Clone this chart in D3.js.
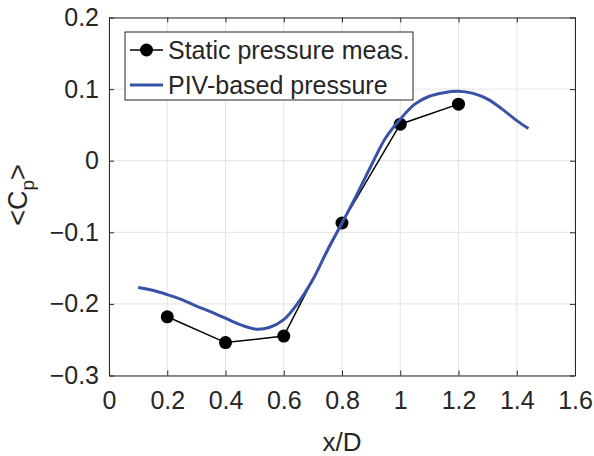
<!DOCTYPE html>
<html>
<head>
<meta charset="utf-8">
<script src="https://cdn.jsdelivr.net/npm/d3@7"></script>
<style>
  body { margin: 0; background: #fff; }
  text { font-family: "Liberation Sans", Arial, Helvetica, sans-serif; fill: #262626; }
</style>
</head>
<body>
<script>
// Static pressure taps
var staticX = [0.2, 0.4, 0.6, 0.8, 1.0, 1.2];
var staticCp = [-0.218, -0.254, -0.245, -0.087, 0.051, 0.079];

// PIV-based pressure profile
var pivX = [0.10, 0.15, 0.20, 0.25, 0.30, 0.35, 0.40, 0.45, 0.50, 0.55, 0.60, 0.65, 0.70,
  0.75, 0.80, 0.85, 0.90, 0.95, 1.00, 1.05, 1.10, 1.15, 1.20, 1.25, 1.30, 1.35, 1.40, 1.44];
var pivCp = [-0.177, -0.181, -0.187, -0.194, -0.203, -0.211, -0.220, -0.229, -0.235, -0.233,
  -0.222, -0.198, -0.166, -0.125, -0.087, -0.048, -0.007, 0.032, 0.058, 0.079, 0.090,
  0.095, 0.097, 0.094, 0.086, 0.072, 0.056, 0.045];

// Tick values
var xTicks = [0, 0.2, 0.4, 0.6, 0.8, 1, 1.2, 1.4, 1.6];
var yTicks = [-0.3, -0.2, -0.1, 0, 0.1, 0.2];

var legendLabels = ["Static pressure meas.", "PIV-based pressure"];

// SVG area
var svgWidth = 594;
var svgHeight = 456;

var margin = { top: 17.5, right: 19, bottom: 80.5, left: 109 };
var chartWidth = svgWidth - margin.left - margin.right;
var chartHeight = svgHeight - margin.top - margin.bottom;

var svg = d3.select("body")
  .append("svg")
  .attr("width", svgWidth)
  .attr("height", svgHeight);

var chartGroup = svg.append("g")
  .attr("transform", `translate(${margin.left}, ${margin.top})`);

var xScale = d3.scaleLinear()
  .domain([0, 1.6])
  .range([0, chartWidth]);

var yScale = d3.scaleLinear()
  .domain([-0.3, 0.2])
  .range([chartHeight, 0]);

// grid lines
chartGroup.append("g")
  .selectAll("line.gx")
  .data(xTicks)
  .enter()
  .append("line")
  .attr("x1", d => xScale(d))
  .attr("x2", d => xScale(d))
  .attr("y1", 0)
  .attr("y2", chartHeight)
  .attr("stroke", "#e3e3e3")
  .attr("stroke-width", 1);

chartGroup.append("g")
  .selectAll("line.gy")
  .data(yTicks)
  .enter()
  .append("line")
  .attr("x1", 0)
  .attr("x2", chartWidth)
  .attr("y1", d => yScale(d))
  .attr("y2", d => yScale(d))
  .attr("stroke", "#e3e3e3")
  .attr("stroke-width", 1);

// axes (ticks pointing inward, mirrored on top and right)
var fmt = d => d3.format("")(+d.toFixed(1));

var bottomAxis = d3.axisBottom(xScale).tickValues(xTicks).tickSizeInner(-5).tickSizeOuter(0).tickPadding(16).tickFormat(fmt);
var topAxis = d3.axisTop(xScale).tickValues(xTicks).tickSizeInner(-5).tickSizeOuter(0).tickFormat("");
var leftAxis = d3.axisLeft(yScale).tickValues(yTicks).tickSizeInner(-5).tickSizeOuter(0).tickPadding(10).tickFormat(fmt);
var rightAxis = d3.axisRight(yScale).tickValues(yTicks).tickSizeInner(-5).tickSizeOuter(0).tickFormat("");

var axes = [
  chartGroup.append("g").attr("transform", `translate(0, ${chartHeight})`).call(bottomAxis),
  chartGroup.append("g").call(topAxis),
  chartGroup.append("g").call(leftAxis),
  chartGroup.append("g").attr("transform", `translate(${chartWidth}, 0)`).call(rightAxis)
];

axes.forEach(function(a) {
  a.selectAll("path").attr("stroke", "#262626").attr("stroke-width", 1);
  a.selectAll("line").attr("stroke", "#262626").attr("stroke-width", 1);
  a.selectAll("text")
    .style("font-size", "25px")
    .style("font-family", "'Liberation Sans', Arial, Helvetica, sans-serif")
    .attr("fill", "#262626");
});

// PIV curve
var pivData = pivX.map((x, i) => ({ x: x, cp: pivCp[i] }));
var staticData = staticX.map((x, i) => ({ x: x, cp: staticCp[i] }));

var pivLine = d3.line()
  .x(d => xScale(d.x))
  .y(d => yScale(d.cp))
  .curve(d3.curveCatmullRom);

var staticLine = d3.line()
  .x(d => xScale(d.x))
  .y(d => yScale(d.cp));

chartGroup.append("path")
  .datum(staticData)
  .attr("d", staticLine)
  .attr("fill", "none")
  .attr("stroke", "#000")
  .attr("stroke-width", 1.5);

chartGroup.selectAll(".dot")
  .data(staticData)
  .enter()
  .append("circle")
  .attr("class", "dot")
  .attr("cx", d => xScale(d.x))
  .attr("cy", d => yScale(d.cp))
  .attr("r", 6.5)
  .attr("fill", "#000");

chartGroup.append("path")
  .datum(pivData)
  .attr("d", pivLine)
  .attr("fill", "none")
  .attr("stroke", "#3853a5")
  .attr("stroke-width", 3);

// legend
var legend = svg.append("g")
  .attr("transform", "translate(125, 32)");

legend.append("rect")
  .attr("width", 288)
  .attr("height", 68)
  .attr("fill", "#fff")
  .attr("stroke", "#262626")
  .attr("stroke-width", 1);

legend.append("line")
  .attr("x1", 5).attr("x2", 38)
  .attr("y1", 18).attr("y2", 18)
  .attr("stroke", "#000")
  .attr("stroke-width", 1.5);

legend.append("circle")
  .attr("cx", 21.5).attr("cy", 18)
  .attr("r", 6.5)
  .attr("fill", "#000");

legend.append("line")
  .attr("x1", 5).attr("x2", 38)
  .attr("y1", 53).attr("y2", 53)
  .attr("stroke", "#3853a5")
  .attr("stroke-width", 3);

legend.selectAll(".legtext")
  .data(legendLabels)
  .enter()
  .append("text")
  .attr("class", "legtext")
  .attr("x", 43)
  .attr("y", (d, i) => 27 + i * 35)
  .style("font-size", "25px")
  .text(d => d);

// axis labels
svg.append("text")
  .attr("x", margin.left + chartWidth / 2)
  .attr("y", 451)
  .style("text-anchor", "middle")
  .style("font-size", "26px")
  .text("x/D");

var yLabel = svg.append("text")
  .attr("transform", "translate(27, 195) rotate(-90)")
  .style("text-anchor", "middle")
  .style("font-size", "27px");

yLabel.append("tspan").text("<C");
yLabel.append("tspan").attr("dy", 7).style("font-size", "19px").text("p");
yLabel.append("tspan").attr("dy", -7).text(">");
</script>
</body>
</html>
